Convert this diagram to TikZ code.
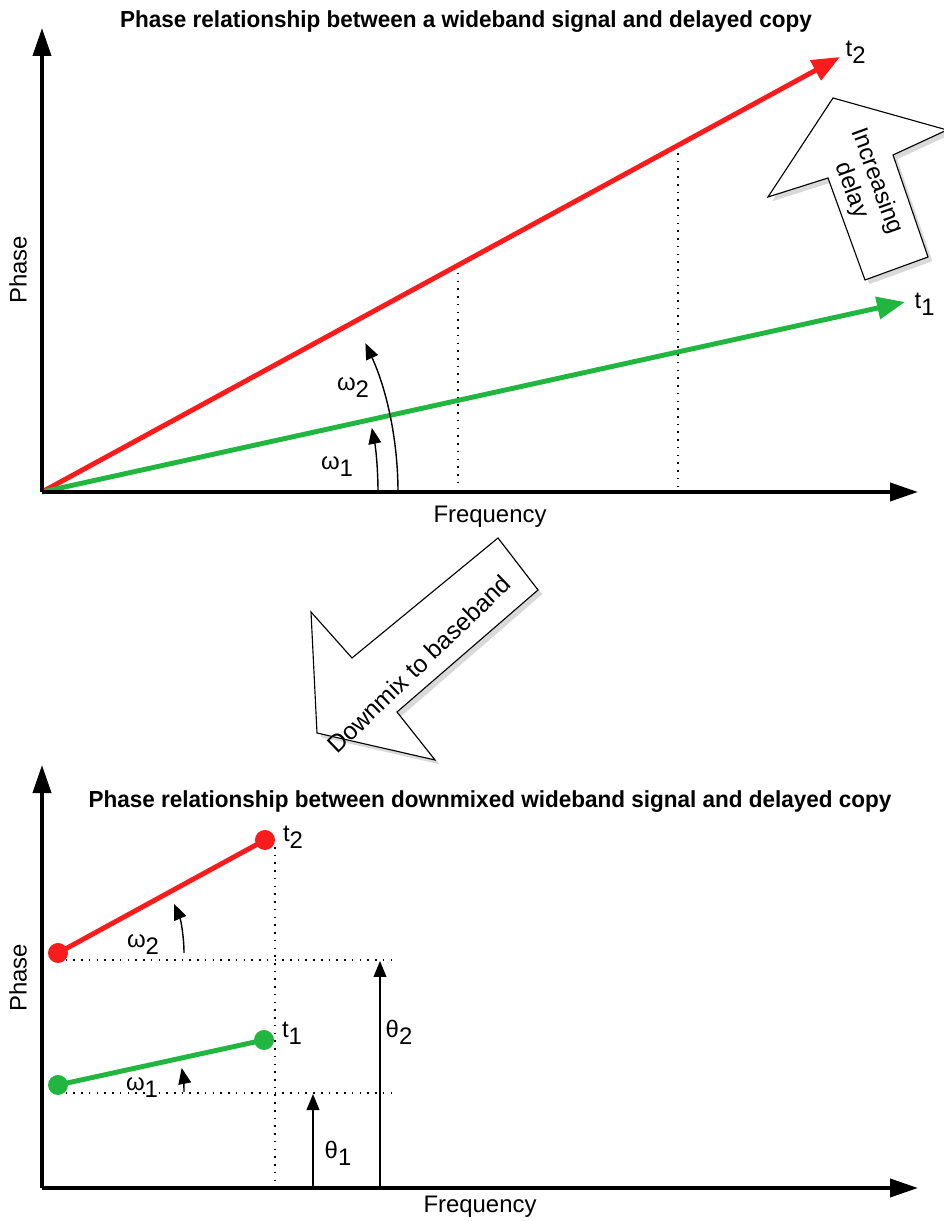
\documentclass[tikz,border=0pt]{standalone}
\usepackage{fontspec}
\setmainfont{Liberation Sans}
\usepackage{xcolor}
\usetikzlibrary{arrows.meta, shadows, calc}

\definecolor{sigred}{RGB}{250,28,28}
\definecolor{siggreen}{RGB}{32,182,64}
\newcommand{\lsub}[1]{\raisebox{-0.55ex}{#1}}

\begin{document}
\begin{tikzpicture}[x=0.025cm, y=0.025cm, font=\fontsize{17}{20}\selectfont,
  axis/.style={line width=2.8pt, -{Triangle[length=0.7cm, width=0.45cm]}},
  sig/.style={line width=3.5pt},
  sigarrow/.style={sig, -{Triangle[length=0.7cm, width=0.55cm]}},
  guide/.style={line width=1.1pt, dash pattern=on 1.1pt off 4.4pt},
  angarrow/.style={line width=1pt, -{Triangle[length=0.4cm, width=0.32cm]}},
  dot/.style={circle, fill=#1, minimum size=0.5cm, inner sep=0pt},
  blockarrow/.style={draw, fill=white, line width=0.8pt, line join=miter,
    drop shadow={opacity=0.3, shadow xshift=3pt, shadow yshift=-3pt}},
  title/.style={font=\fontsize{16.5}{19}\selectfont\bfseries}]
  \useasboundingbox (0,0) rectangle (944,1221);

  % upper plot
  \coordinate (o1) at (42,729);
  \coordinate (y1) at (42,1193);
  \coordinate (x1) at (918,729);
  \coordinate (r1) at (840,1164);
  \coordinate (g1) at (905,919);
  \node[title, xscale=0.97] (h1) at (466,1199) {Phase relationship between a wideband signal and delayed copy};
  \node[rotate=90] (p1) at (18,951) {Phase};
  \node (f1) at (490,704) {Frequency};

  \coordinate (m1) at ($(o1)!0.5213!(r1)$);
  \coordinate (m2) at ($(o1)!0.797!(r1)$);
  \draw[guide] (m1) -- (m1 |- o1);
  \draw[guide] (m2) -- (m2 |- o1);

  \draw[sigarrow, sigred] (o1) -- (r1);
  \draw[sigarrow, siggreen] (o1) -- (g1);
  \draw[axis] (o1) -- (y1);
  \draw[axis] (o1) -- (x1);
  \node[anchor=west, inner sep=1pt] (t2a) at ($(r1)+(4,5)$) {t\lsub{2}};
  \node[anchor=west, inner sep=1pt] (t1a) at ($(g1)+(8,-2)$) {t\lsub{1}};

  \coordinate (w1s) at (378,729);
  \coordinate (w2s) at (398,729);
  \draw[angarrow] (w1s) arc[start angle=0, end angle=11, radius=336];
  \draw[angarrow] (w2s) arc[start angle=0, end angle=24.7, radius=356];
  \node (w1a) at (337,754) {ω\lsub{1}};
  \node (w2a) at (353,833) {ω\lsub{2}};

  % block arrows
  \draw[blockarrow] (833,1123) -- (768,1024) -- (828,1043) -- (865,941)
    -- (928,964) -- (893,1066) -- (947,1091) -- cycle;
  \node[rotate=-70, align=center, font=\fontsize{17}{19}\selectfont] (inc) at (864,1035) {Increasing\\delay};

  \draw[blockarrow] (317,488) -- (311,609) -- (352,563) -- (498,683)
    -- (538,631) -- (397,509) -- (435,461) -- cycle;
  \node[rotate=44, font=\fontsize{17.5}{20}\selectfont] (dm) at (419,557) {Downmix to baseband};

  % lower plot
  \coordinate (o2) at (42,33);
  \coordinate (y2) at (42,456);
  \coordinate (x2) at (918,33);
  \node[title, xscale=0.97] (h2) at (490,419) {Phase relationship between downmixed wideband signal and delayed copy};
  \node[rotate=90] (p2) at (18,243) {Phase};
  \node (f2) at (480,14) {Frequency};

  \coordinate (v2) at (275,374);
  \coordinate (hs2) at (58,261);
  \coordinate (he2) at (398,261);
  \coordinate (hs1) at (58,128);
  \coordinate (he1) at (398,128);
  \draw[guide] (v2) -- (v2 |- o2);
  \draw[guide] (hs2) -- (he2);
  \draw[guide] (hs1) -- (he1);

  \node[dot=sigred] (r2a) at (58,268) {};
  \node[dot=sigred] (r2b) at (265,381) {};
  \node[dot=siggreen] (g2a) at (58,136) {};
  \node[dot=siggreen] (g2b) at (264,181) {};
  \draw[sig, sigred] (r2a.center) -- (r2b.center);
  \draw[sig, siggreen] (g2a.center) -- (g2b.center);
  \node (t2b) at (293,384) {t\lsub{2}};
  \node (t1b) at (292,188) {t\lsub{1}};

  \draw[axis] (o2) -- (y2);
  \draw[axis] (o2) -- (x2);

  \coordinate (w3s) at (184,268);
  \coordinate (w4s) at (184,129);
  \draw[angarrow] (w3s) arc[start angle=0, end angle=23, radius=126];
  \draw[angarrow] (w4s) arc[start angle=0, end angle=11, radius=126];
  \node (w2b) at (143,276) {ω\lsub{2}};
  \node (w1b) at (142,133) {ω\lsub{1}};

  \coordinate (th1s) at (313,33);
  \coordinate (th1e) at (313,127);
  \coordinate (th2s) at (380,33);
  \coordinate (th2e) at (380,260);
  \draw[angarrow] (th1s) -- (th1e);
  \draw[angarrow] (th2s) -- (th2e);
  \node (th1) at (338,68) {θ\lsub{1}};
  \node (th2) at (399,189) {θ\lsub{2}};
\end{tikzpicture}
\end{document}
